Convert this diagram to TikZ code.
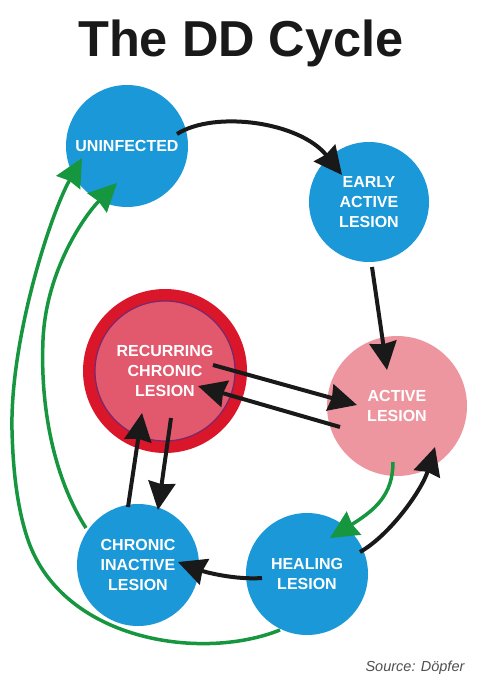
\documentclass[tikz,border=0pt]{standalone}
\usepackage{fontspec}
\setmainfont{Liberation Sans}
\usetikzlibrary{arrows.meta,calc}
\definecolor{ddblue}{RGB}{26,152,216}
\definecolor{ddpink}{RGB}{238,150,160}
\definecolor{ddrecfill}{RGB}{226,88,108}
\definecolor{ddring}{RGB}{218,22,43}
\definecolor{ddpurple}{RGB}{120,40,110}
\definecolor{ddgreen}{RGB}{22,150,62}
\definecolor{ddblack}{RGB}{25,25,25}
\definecolor{ddgray}{RGB}{80,80,80}
\begin{document}
\begin{tikzpicture}[x=1pt,y=-1pt,
  stage/.style={circle,inner sep=0pt,align=center,text=white,
    font=\fontsize{16}{20}\selectfont\bfseries},
  bluestage/.style={stage,fill=ddblue,minimum size=122pt},
  blackarrow/.style={draw=ddblack,line width=4pt,
    -{Stealth[length=28pt,width=27pt,inset=2pt]}},
  greenarrow/.style={draw=ddgreen,line width=3.5pt,
    -{Stealth[length=28pt,width=27pt,inset=2pt]}},
]
\useasboundingbox (0,0) rectangle (480,687);
\fill[white] (0,0) rectangle (480,687);

\node[anchor=base,text=ddblack,font=\fontsize{50.5}{56}\selectfont\bfseries] (title) at (241,57) {The DD Cycle};

\node[bluestage] (uninf) at (127,146) {UNINFECTED};
\node[bluestage,minimum size=120pt] (early) at (369,202) {EARLY\\ACTIVE\\LESION};
\node[stage,fill=ddrecfill,draw=ddring,line width=12pt,minimum size=152pt] (recur) at (165,371) {RECURRING\\CHRONIC\\LESION};
\draw[ddpurple,line width=1.2pt] (recur.center) circle[radius=70pt];
\node[stage,fill=ddpink,minimum size=140pt] (active) at (397,406) {ACTIVE\\LESION};
\node[bluestage] (chronic) at (138,565) {CHRONIC\\INACTIVE\\LESION};
\node[bluestage] (healing) at (307,574) {HEALING\\LESION};

\node[anchor=base,text=ddgray,font=\fontsize{14.5}{17}\selectfont\itshape] (source) at (415,671) {Source: Döpfer};

% uninfected -> early
\draw[blackarrow] ($(uninf.center)+(50,-12)$) .. controls ($(uninf.center)+(88,-36)$) and ($(early.center)+(-69,-80)$) .. ($(early.center)+(-27,-27)$);
% early -> active
\draw[blackarrow] ($(early.center)+(3,65)$) -- ($(active.center)+(-10,-36)$);
% recurring <-> active
\draw[blackarrow] ($(recur.center)+(48,-6)$) -- ($(active.center)+(-40,-1)$);
\draw[blackarrow] ($(active.center)+(-57,21)$) -- ($(recur.center)+(33,15)$);
% recurring <-> chronic
\draw[blackarrow] ($(chronic.center)+(-10,-58)$) -- ($(recur.center)+(-23,42)$);
\draw[blackarrow] ($(recur.center)+(6,47)$) -- ($(chronic.center)+(20,-55)$);
% active -> healing (green)
\draw[greenarrow] ($(active.center)+(-4,56)$) .. controls ($(active.center)+(-4,89)$) and ($(healing.center)+(68,-64)$) .. ($(healing.center)+(23,-36)$);
% healing -> active
\draw[blackarrow] ($(healing.center)+(53,-22)$) .. controls ($(healing.center)+(83,-39)$) and ($(active.center)+(25,84)$) .. ($(active.center)+(38,41)$);
% healing -> chronic
\draw[blackarrow] ($(healing.center)+(-45,4)$) .. controls ($(healing.center)+(-72,6)$) and ($(chronic.center)+(67,7)$) .. ($(chronic.center)+(40,-3)$);
% chronic -> uninfected (inner green)
\coordinate (innermid) at (43,340);
\draw[greenarrow] ($(chronic.center)+(-52,-37)$) .. controls (55,480) and (40,410) .. (innermid) .. controls (46,270) and (85,215) .. ($(uninf.center)+(-10,37)$);
% healing -> uninfected (outer green)
\coordinate (outerlow) at (27,537);
\coordinate (outermid) at (12,430);
\draw[greenarrow] ($(healing.center)+(-27,56)$) .. controls (200,662) and (60,640) .. (outerlow) .. controls (17,506) and (13,470) .. (outermid) .. controls (10,340) and (50,215) .. ($(uninf.center)+(-45,12)$);
\end{tikzpicture}
\end{document}
